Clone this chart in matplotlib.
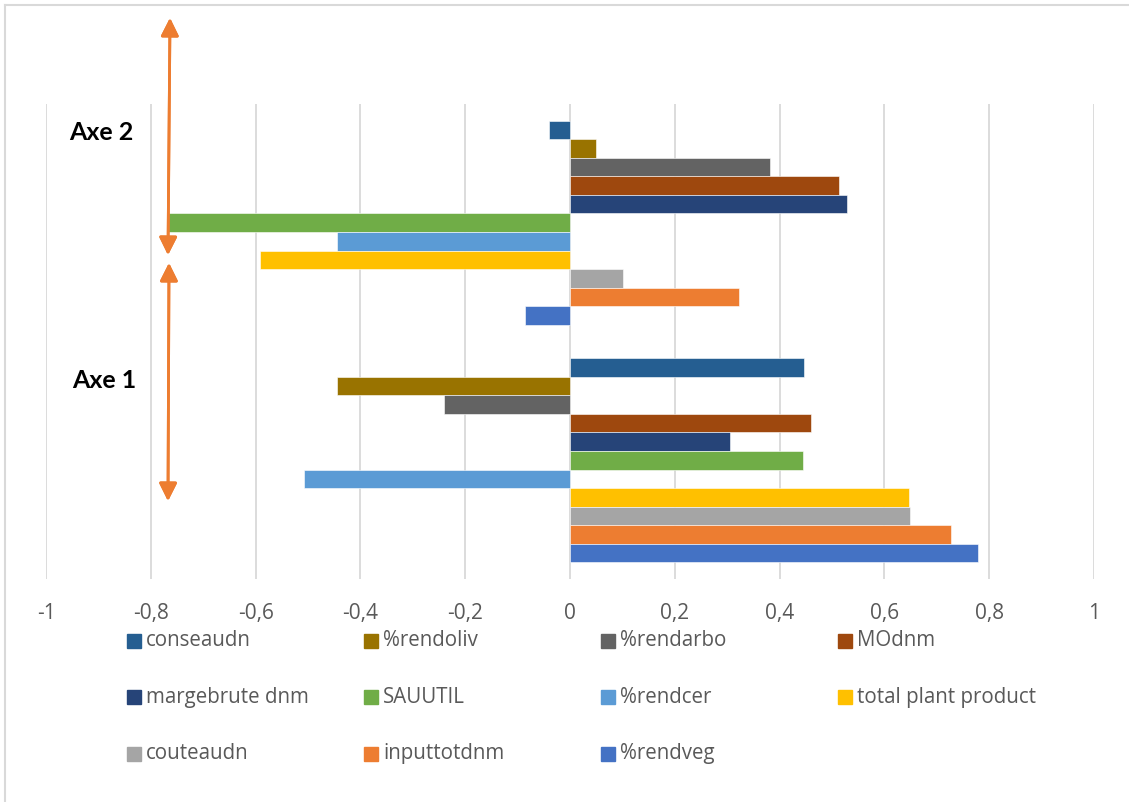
import numpy as np
import matplotlib.pyplot as plt
from matplotlib.patches import Rectangle
from matplotlib.lines import Line2D

plt.rcParams['font.family'] = ['Open Sans', 'DejaVu Sans']

# data
categories = ['Axe 1', 'Axe 2']
series = ['conseaudn', '%rendoliv', '%rendarbo', 'MOdnm', 'margebrute dnm', 'SAUUTIL',
          '%rendcer', 'total plant product', 'couteaudn', 'inputtotdnm', '%rendveg']
axe1 = [0.447, -0.445, -0.241, 0.459, 0.306, 0.444, -0.507, 0.647, 0.649, 0.728, 0.779]
axe2 = [-0.040, 0.050, 0.382, 0.513, 0.529, -0.767, -0.445, -0.592, 0.101, 0.322, -0.086]
colors = ['#255E91', '#997300', '#636363', '#9E480E', '#264478', '#70AD47',
          '#5B9BD5', '#FFC000', '#A5A5A5', '#ED7D31', '#4472C4']
xticks = [-1, -0.8, -0.6, -0.4, -0.2, 0, 0.2, 0.4, 0.6, 0.8, 1]

W, H = 1129, 802
fig = plt.figure(figsize=(W / 100, H / 100), dpi=100)

def fx(px):
    return px / W

def fy(py):
    return 1 - py / H

ax = fig.add_axes([fx(46), fy(579), fx(1094) - fx(46), fy(104) - fy(579)])

n = len(series)
h = 0.859 / n
pos = np.arange(len(categories))
for i in range(n):
    ax.barh(pos + (n // 2 - i) * h, [axe1[i], axe2[i]], height=h,
            color=colors[i], edgecolor='white', linewidth=0.4, zorder=3)

ax.set_xlim(-1, 1)
ax.set_ylim(-0.5, 1.5)
ax.set_xticks(xticks)
ax.set_xticklabels([('%g' % v).replace('.', ',') for v in xticks])
ax.tick_params(axis='x', length=0, pad=17, labelsize=15, labelcolor='#595959')
ax.set_yticks([])
ax.grid(axis='x', color='#D9D9D9', linewidth=1.3, zorder=0)
for s in ax.spines.values():
    s.set_visible(False)

# axis labels placed as text boxes
fig.text(fx(69), fy(133), 'Axe 2', fontsize=18, fontweight='bold', va='center', ha='left',
         family=['Lato', 'DejaVu Sans'])
fig.text(fx(72), fy(381), 'Axe 1', fontsize=18, fontweight='bold', va='center', ha='left',
         family=['Lato', 'DejaVu Sans'])

# orange double arrows
for (x0, y0, x1, y1) in [(170, 18, 168, 255), (169, 263, 168, 501)]:
    fig.add_artist(plt.annotate('', xy=(fx(x0), fy(y0)), xytext=(fx(x1), fy(y1)),
                                xycoords='figure fraction', textcoords='figure fraction',
                                arrowprops=dict(arrowstyle='<|-|>,head_length=0.54,head_width=0.27',
                                                color='#ED7D31', lw=2,
                                                mutation_scale=20, shrinkA=0, shrinkB=0)))

# legend, 4 columns
for k, name in enumerate(series):
    r, c = divmod(k, 4)
    x = 127 + c * 237
    y = 640.7 + r * 56.5
    fig.add_artist(Rectangle((fx(x), fy(y + 7)), fx(14), 14 / H, color=colors[k],
                             transform=fig.transFigure))
    fig.text(fx(x + 19), fy(y), name, fontsize=14.8, color='#595959', va='center', ha='left')

# chart border (top and left only visible)
fig.add_artist(Line2D([fx(5), 1], [fy(5), fy(5)], color='#D9D9D9', lw=1.5))
fig.add_artist(Line2D([fx(5), fx(5)], [fy(5), 0], color='#D9D9D9', lw=1.5))

fig.savefig('out.png', dpi=100)
